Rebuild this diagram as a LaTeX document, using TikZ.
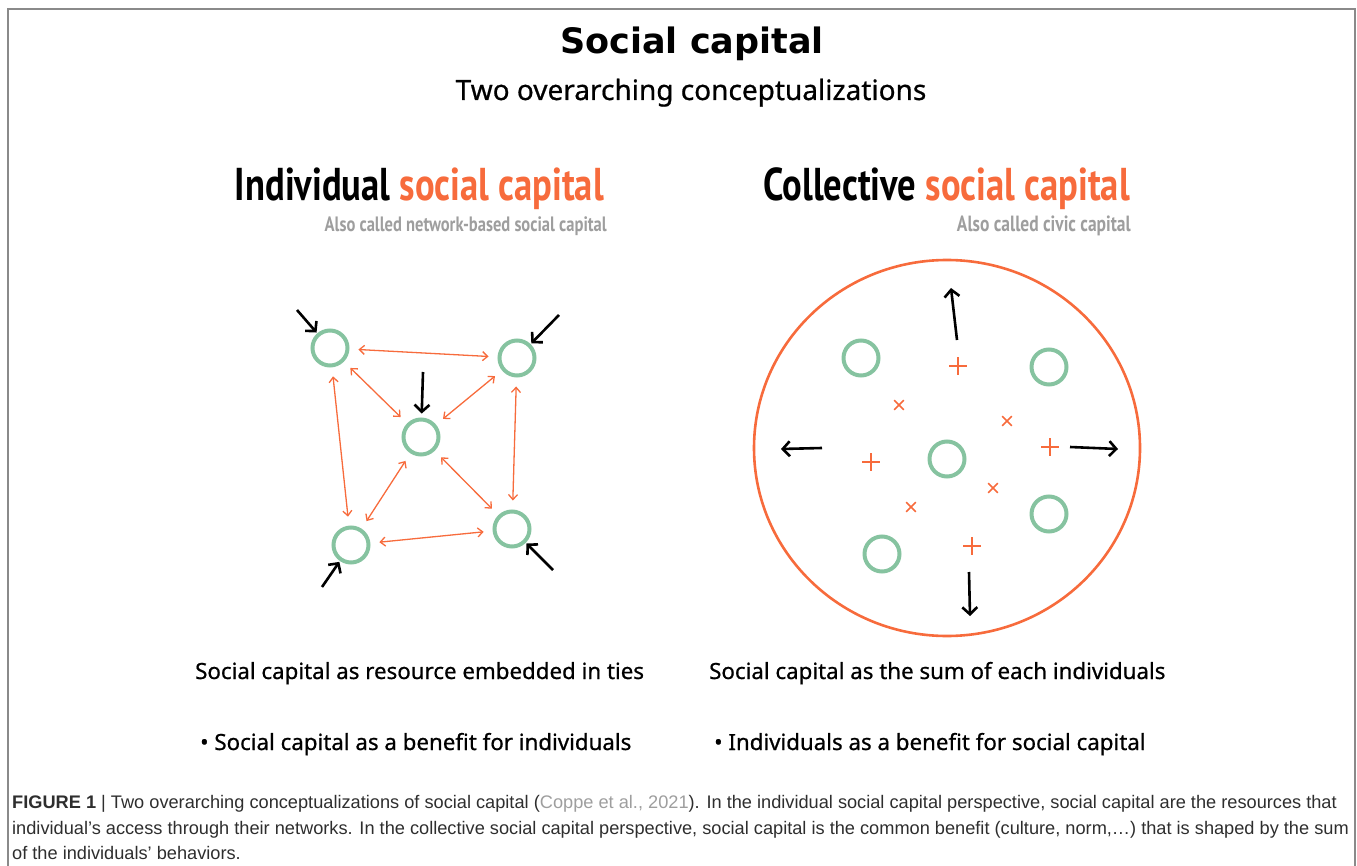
\documentclass[tikz,border=0pt]{standalone}
\usepackage{fontspec}
\usetikzlibrary{arrows.meta,shapes.misc}
\setmainfont{Noto Sans}
\newfontfamily\medfont{Noto Sans}[FakeBold=0.7]
\newfontfamily\titlefont{DejaVu Sans}
\newfontfamily\condfont{PT Sans}[FakeStretch=0.795]
\newfontfamily\capfont{Liberation Sans}
\definecolor{scorange}{HTML}{F76B3C}
\definecolor{scgreen}{HTML}{86C3A0}
\definecolor{scgray}{HTML}{9E9E9E}
\definecolor{framegray}{HTML}{8A8A8A}
\definecolor{captext}{HTML}{2E2E2E}
\tikzset{
  person/.style={circle, draw=scgreen, line width=4pt, minimum size=35pt, inner sep=0pt},
  tie/.style={draw=scorange, line width=1.3pt, {Straight Barb[length=5pt,width=9pt]}-{Straight Barb[length=5pt,width=9pt]}, shorten <=9pt, shorten >=9pt},
  push/.style={draw=black, line width=2.6pt, -{Straight Barb[length=7pt,width=15pt]}},
  xmark/.style={cross out, draw=scorange, line width=1.7pt, minimum size=8pt, inner sep=0pt},
  pmark/.style={cross out, draw=scorange, line width=1.7pt, minimum size=11pt, inner sep=0pt, rotate=45},
  txt/.style={inner sep=0pt, anchor=base},
  stmt/.style={inner sep=0pt, anchor=base west, font=\medfont\fontsize{22.3}{26}\selectfont},
  capline/.style={inner sep=0pt, anchor=base west, text=captext, font=\capfont\fontsize{18.2}{22}\selectfont}
}
\begin{document}
\begin{tikzpicture}[x=1pt,y=-1pt]
\useasboundingbox (0,0) rectangle (1357,866);
% frame
\draw[framegray, line width=2pt] (8,866) -- (8,9) -- (1355,9) -- (1355,866);

% titles
\node[txt, font=\titlefont\bfseries\fontsize{35}{40}\selectfont] (title) at (692,54) {Social capital};
\node[txt, font=\medfont\fontsize{28}{32}\selectfont] (subtitle) at (691,100) {Two overarching conceptualizations};

\node[txt, anchor=base east, font=\condfont\bfseries\fontsize{46}{50}\selectfont] (lhead) at (604,201) {Individual \textcolor{scorange}{social capital}};
\node[txt, anchor=base east, text=scgray, font=\condfont\bfseries\fontsize{20.8}{24}\selectfont] (lsub) at (607,232) {Also called network-based social capital};
\node[txt, anchor=base east, font=\condfont\bfseries\fontsize{46}{50}\selectfont] (rhead) at (1130,201) {Collective \textcolor{scorange}{social capital}};
\node[txt, anchor=base east, text=scgray, font=\condfont\bfseries\fontsize{22}{24}\selectfont] (rsub) at (1131,232) {Also called civic capital};

% left network
\node[person] (tl) at (330,348) {};
\node[person] (tr) at (517,358) {};
\node[person] (c)  at (421,437) {};
\node[person] (bl) at (351,545) {};
\node[person] (br) at (512,529) {};
\draw[tie] (tl) -- (tr);
\draw[tie] (tl) -- (c);
\draw[tie] (tl) -- (bl);
\draw[tie] (tr) -- (c);
\draw[tie] (tr) -- (br);
\draw[tie] (c) -- (bl);
\draw[tie] (c) -- (br);
\draw[tie] (bl) -- (br);
\coordinate (atl) at (297,310);
\coordinate (atr) at (559,315);
\coordinate (ac)  at (423,372);
\coordinate (abl) at (322,587);
\coordinate (abr) at (553,570);
\draw[push, shorten >=1pt] (atl) -- (tl);
\draw[push, shorten >=1pt] (atr) -- (tr);
\draw[push, shorten >=4pt] (ac) -- (c);
\draw[push, shorten >=1pt] (abl) -- (bl);
\draw[push, shorten >=1pt] (abr) -- (br);

% right collective
\draw[scorange, line width=2.6pt] (947,448) ellipse [x radius=193, y radius=188];
\node[person] (p1) at (861,358) {};
\node[person] (p2) at (1049,367) {};
\node[person] (p3) at (947,459) {};
\node[person] (p4) at (1049,514) {};
\node[person] (p5) at (882,554) {};
\node[pmark] (m1) at (958,366) {};
\node[pmark] (m2) at (871,462) {};
\node[pmark] (m3) at (1050,447) {};
\node[pmark] (m4) at (972,546) {};
\node[xmark] (x1) at (899,405) {};
\node[xmark] (x2) at (1007,421) {};
\node[xmark] (x3) at (993,488) {};
\node[xmark] (x4) at (911,507) {};
\coordinate (u0) at (957,340); \coordinate (u1) at (951,288);
\coordinate (l0) at (822,448); \coordinate (l1) at (781,449);
\coordinate (r0) at (1070,447); \coordinate (r1) at (1118,449);
\coordinate (d0) at (969,572); \coordinate (d1) at (970,616);
\draw[push] (u0) -- (u1);
\draw[push] (l0) -- (l1);
\draw[push] (r0) -- (r1);
\draw[push] (d0) -- (d1);

% statements
\node[stmt] (s1) at (195,679) {Social capital as resource embedded in ties};
\node[stmt] (s2) at (200,750) {\textbf{•} Social capital as a benefit for individuals};
\node[stmt] (s3) at (709,679) {Social capital as the sum of each individuals};
\node[stmt] (s4) at (714,750) {\textbf{•} Individuals as a benefit for social capital};

% caption
\node[capline] (cap1) at (12,808) {\textbf{FIGURE 1} | Two overarching conceptualizations of social capital (\textcolor{scgray}{Coppe et al., 2021}). In the individual social capital perspective, social capital are the resources that};
\node[capline] (cap2) at (12,834) {individual’s access through their networks. In the collective social capital perspective, social capital is the common benefit (culture, norm,…) that is shaped by the sum};
\node[capline] (cap3) at (12,859) {of the individuals’ behaviors.};
\end{tikzpicture}
\end{document}
